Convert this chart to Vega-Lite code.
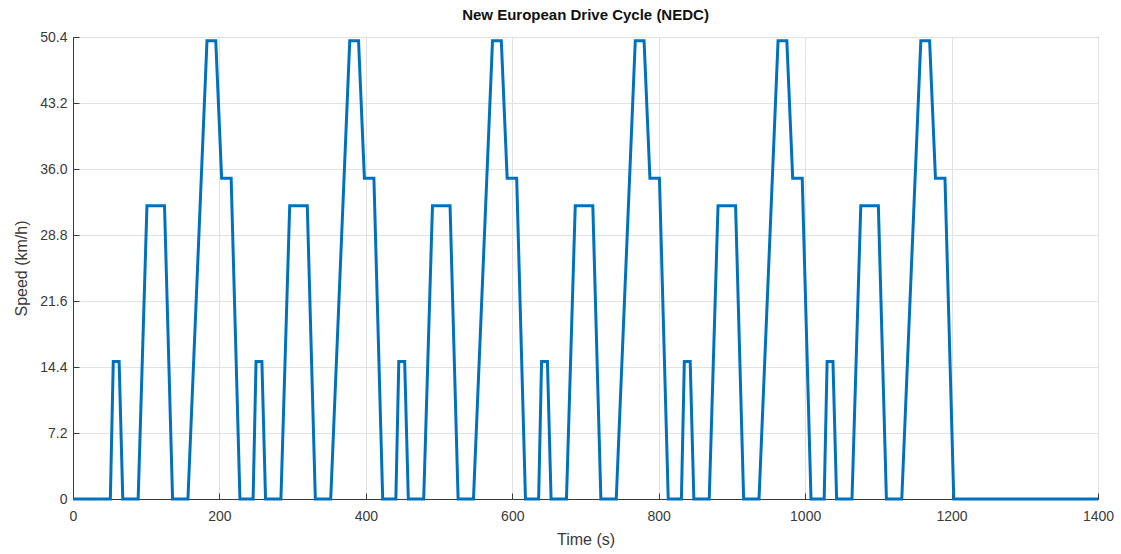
{
  "$schema": "https://vega.github.io/schema/vega-lite/v6.json",
  "autosize": {"type": "none"},
  "padding": {"left": 73, "top": 37, "right": 23, "bottom": 55},
  "width": 1025,
  "height": 462,
  "background": "white",
  "title": {
    "text": "New European Drive Cycle (NEDC)",
    "font": "Liberation Sans",
    "fontSize": 15,
    "fontWeight": "bold",
    "color": "#111111",
    "anchor": "middle",
    "offset": 7
  },
  "config": {
    "view": {"stroke": "#3a3a3a", "strokeWidth": 1},
    "axis": {
      "labelFont": "Liberation Sans",
      "titleFont": "Liberation Sans",
      "labelFontSize": 14,
      "titleFontSize": 16,
      "titleFontWeight": "normal",
      "labelColor": "#3a3a3a",
      "titleColor": "#3a3a3a",
      "domainColor": "#3a3a3a",
      "tickColor": "#3a3a3a",
      "gridColor": "#e2e2e2",
      "gridWidth": 1,
      "tickSize": -6
    }
  },
  "data": {
    "values": [
      {"t": 0, "v": 0},
      {"t": 40, "v": 0}, {"t": 51, "v": 0}, {"t": 55, "v": 15}, {"t": 63, "v": 15}, {"t": 68, "v": 0}, {"t": 89, "v": 0}, {"t": 101, "v": 32}, {"t": 125, "v": 32}, {"t": 136, "v": 0}, {"t": 157, "v": 0}, {"t": 183, "v": 50}, {"t": 195, "v": 50}, {"t": 203, "v": 35}, {"t": 216, "v": 35}, {"t": 228, "v": 0},
      {"t": 235, "v": 0}, {"t": 246, "v": 0}, {"t": 250, "v": 15}, {"t": 258, "v": 15}, {"t": 263, "v": 0}, {"t": 284, "v": 0}, {"t": 296, "v": 32}, {"t": 320, "v": 32}, {"t": 331, "v": 0}, {"t": 352, "v": 0}, {"t": 378, "v": 50}, {"t": 390, "v": 50}, {"t": 398, "v": 35}, {"t": 411, "v": 35}, {"t": 423, "v": 0},
      {"t": 430, "v": 0}, {"t": 441, "v": 0}, {"t": 445, "v": 15}, {"t": 453, "v": 15}, {"t": 458, "v": 0}, {"t": 479, "v": 0}, {"t": 491, "v": 32}, {"t": 515, "v": 32}, {"t": 526, "v": 0}, {"t": 547, "v": 0}, {"t": 573, "v": 50}, {"t": 585, "v": 50}, {"t": 593, "v": 35}, {"t": 606, "v": 35}, {"t": 618, "v": 0},
      {"t": 625, "v": 0}, {"t": 636, "v": 0}, {"t": 640, "v": 15}, {"t": 648, "v": 15}, {"t": 653, "v": 0}, {"t": 674, "v": 0}, {"t": 686, "v": 32}, {"t": 710, "v": 32}, {"t": 721, "v": 0}, {"t": 742, "v": 0}, {"t": 768, "v": 50}, {"t": 780, "v": 50}, {"t": 788, "v": 35}, {"t": 801, "v": 35}, {"t": 813, "v": 0},
      {"t": 820, "v": 0}, {"t": 831, "v": 0}, {"t": 835, "v": 15}, {"t": 843, "v": 15}, {"t": 848, "v": 0}, {"t": 869, "v": 0}, {"t": 881, "v": 32}, {"t": 905, "v": 32}, {"t": 916, "v": 0}, {"t": 937, "v": 0}, {"t": 963, "v": 50}, {"t": 975, "v": 50}, {"t": 983, "v": 35}, {"t": 996, "v": 35}, {"t": 1008, "v": 0},
      {"t": 1015, "v": 0}, {"t": 1026, "v": 0}, {"t": 1030, "v": 15}, {"t": 1038, "v": 15}, {"t": 1043, "v": 0}, {"t": 1064, "v": 0}, {"t": 1076, "v": 32}, {"t": 1100, "v": 32}, {"t": 1111, "v": 0}, {"t": 1132, "v": 0}, {"t": 1158, "v": 50}, {"t": 1170, "v": 50}, {"t": 1178, "v": 35}, {"t": 1191, "v": 35}, {"t": 1203, "v": 0},
      {"t": 1210, "v": 0}, {"t": 1400, "v": 0}
    ]
  },
  "mark": {"type": "line", "color": "#0072BD", "strokeWidth": 3, "strokeJoin": "miter", "clip": false},
  "encoding": {
    "x": {
      "field": "t",
      "type": "quantitative",
      "scale": {"domain": [0, 1400], "nice": false, "zero": false},
      "axis": {
        "title": "Time (s)",
        "values": [0, 200, 400, 600, 800, 1000, 1200, 1400],
        "format": "d",
        "labelPadding": 16,
        "titlePadding": 8,
        "labelFlush": false
      }
    },
    "y": {
      "field": "v",
      "type": "quantitative",
      "scale": {"domain": [0, 50.4], "nice": false},
      "axis": {
        "title": "Speed (km/h)",
        "values": [0, 7.2, 14.4, 21.6, 28.8, 36, 43.2, 50.4],
        "labelExpr": "datum.value == 0 ? '0' : format(datum.value, '.1f')",
        "labelPadding": 12,
        "titlePadding": 10,
        "labelFlush": false
      }
    }
  }
}
